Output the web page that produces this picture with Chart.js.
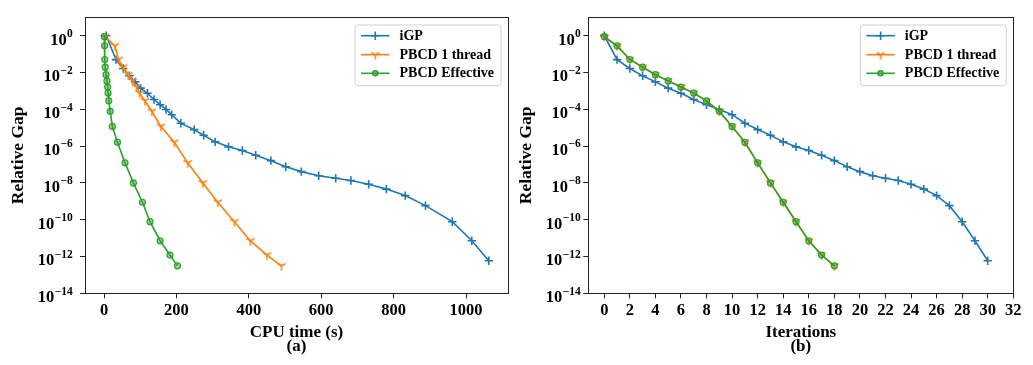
<!DOCTYPE html>
<html><head><meta charset="utf-8">
<script src="https://cdn.jsdelivr.net/npm/chart.js@4.4.0/dist/chart.umd.min.js"></script>
<style>
html,body{margin:0;padding:0;background:#fff;}
#wrap{position:relative;width:1033px;height:365px;overflow:hidden;}
canvas{position:absolute;top:0;}
</style></head><body>
<div id="wrap">
<canvas id="c1" width="517" height="365" style="left:0px"></canvas>
<canvas id="c2" width="516" height="365" style="left:517px"></canvas>
</div>
<script>
// ---------- data ----------
const seriesNames = ['iGP', 'PBCD 1 thread', 'PBCD Effective'];
const igpIter = [0,1,2,3,4,5,6,7,8,9,10,11,12,13,14,15,16,17,18,19,20,21,22,23,24,25,26,27,28,29,30];
const igpTime = [6,33,53,70,86,101,120,138,155,171,187,212,249,275,307,344,382,419,461,502,545,593,640,682,731,780,832,888,962,1016,1063];
const igpGap = [1.0,5.0e-2,1.66e-2,6.6e-3,3.1e-3,1.41e-3,7.4e-4,3.4e-4,1.78e-4,9.8e-5,5.1e-5,1.74e-5,7.9e-6,3.9e-6,1.7e-6,9.1e-7,5.8e-7,3.2e-7,1.62e-7,7.6e-8,4.1e-8,2.45e-8,1.78e-8,1.35e-8,8.5e-9,4.6e-9,2.04e-9,5.8e-10,7.8e-11,7.2e-12,5.9e-13];
const pbcdIter = [0,1,2,3,4,5,6,7,8,9,10,11,12,13,14,15,16,17,18];
const pbcd1Time = [3,30,40,53,67,79,90,98,113,132,157,194,231,273,314,360,404,450,490];
const pbcdEffTime = [0.5,1.5,2,3,5.5,8,10,11,13,17,23,37,58,81,106,127,155,182,203];
const pbcdGap = [0.9,2.8e-1,5.1e-2,1.95e-2,7.6e-3,3.5e-3,1.62e-3,7.6e-4,2.9e-4,7.8e-5,1.17e-5,1.62e-6,1.23e-7,1.0e-8,8.9e-10,7.8e-11,7.2e-12,1.2e-12,3.1e-13];
const yTickExponents = [0,-2,-4,-6,-8,-10,-12,-14];
const xTicksTime = [0,200,400,600,800,1000];
const xTicksIter = [0,2,4,6,8,10,12,14,16,18,20,22,24,26,28,30,32];

// ---------- styling ----------
const C_BLUE = '#1f77b4', C_ORANGE = '#ff7f0e', C_GREEN = '#2ca02c';
const SERIF = "'Liberation Serif','Times New Roman',serif";

function triDown(color) {
  const c = document.createElement('canvas');
  c.width = 12; c.height = 12;
  const g = c.getContext('2d');
  g.strokeStyle = color; g.lineWidth = 1.5; g.lineCap = 'butt';
  const cx = 6, cy = 6, r = 4.8;
  g.beginPath();
  g.moveTo(cx, cy); g.lineTo(cx, cy + r);
  g.moveTo(cx, cy); g.lineTo(cx - r * 0.866, cy - r * 0.5);
  g.moveTo(cx, cy); g.lineTo(cx + r * 0.866, cy - r * 0.5);
  g.stroke();
  return c;
}
const triImg = triDown(C_ORANGE);

function pts(xs, ys) { return xs.map((x, i) => ({x: x, y: ys[i]})); }

function makeDatasets(xIgp, x1, xEff) {
  return [
    {label: seriesNames[0], data: pts(xIgp, igpGap), borderColor: C_BLUE, backgroundColor: C_BLUE,
     borderWidth: 1.6, pointStyle: 'cross', pointRadius: 4.2, pointBorderWidth: 1.6, order: 3, markerKind: 'cross'},
    {label: seriesNames[1], data: pts(x1, pbcdGap), borderColor: C_ORANGE, backgroundColor: C_ORANGE,
     borderWidth: 1.6, pointStyle: triImg, pointRadius: 4.5, order: 2, markerKind: 'tri'},
    {label: seriesNames[2], data: pts(xEff, pbcdGap), borderColor: C_GREEN, backgroundColor: 'rgba(44,160,44,0.45)',
     borderWidth: 1.6, pointStyle: 'circle', pointRadius: 3, pointBorderWidth: 1.2, order: 1, markerKind: 'circle'}
  ];
}

const framePlugin = {
  id: 'frame',
  afterDatasetsDraw(chart) {
    const a = chart.chartArea, ctx = chart.ctx;
    ctx.save();
    ctx.strokeStyle = '#222'; ctx.lineWidth = 1;
    ctx.strokeRect(Math.round(a.left) + 0.5, Math.round(a.top) + 0.5, Math.round(a.right - a.left), Math.round(a.bottom - a.top));
    ctx.restore();
  }
};

// power-of-ten tick labels with a raised exponent (like matplotlib mathtext)
function expTickPlugin(gap) {
  return {
    id: 'expTicks',
    afterDraw(chart) {
      const s = chart.scales.y, ctx = chart.ctx;
      const right = chart.chartArea.left - gap;
      ctx.save();
      ctx.fillStyle = '#000';
      ctx.textAlign = 'right'; ctx.textBaseline = 'alphabetic';
      s.ticks.forEach(t => {
        const y = s.getPixelForValue(t.value);
        const e = Math.round(Math.log10(t.value));
        const expStr = e < 0 ? '\u2212' + (-e) : String(e);
        ctx.font = 'bold 11.5px ' + SERIF;
        const ew = ctx.measureText(expStr).width;
        ctx.fillText(expStr, right, y + 1.2);
        ctx.font = 'bold 16.5px ' + SERIF;
        ctx.fillText('10', right - ew - 0.3, y + 8.8);
      });
      ctx.restore();
    }
  };
}

const legendPlugin = {
  id: 'mplLegend',
  afterDraw(chart) {
    const ctx = chart.ctx, a = chart.chartArea;
    const ds = chart.data.datasets;
    ctx.save();
    ctx.font = 'bold 14px ' + SERIF;
    let tw = 0;
    ds.forEach(d => { tw = Math.max(tw, ctx.measureText(d.label).width); });
    const lineLen = 28.5, padL = 6, gap = 10, padR = 7;
    const w = padL + lineLen + gap + tw + padR, h = 60.7;
    const right = a.right - 7, top = a.top + 7.7, left = right - w;
    ctx.beginPath();
    const r = 3;
    ctx.moveTo(left + r, top); ctx.lineTo(right - r, top); ctx.quadraticCurveTo(right, top, right, top + r);
    ctx.lineTo(right, top + h - r); ctx.quadraticCurveTo(right, top + h, right - r, top + h);
    ctx.lineTo(left + r, top + h); ctx.quadraticCurveTo(left, top + h, left, top + h - r);
    ctx.lineTo(left, top + r); ctx.quadraticCurveTo(left, top, left + r, top);
    ctx.closePath();
    ctx.fillStyle = 'rgba(255,255,255,0.85)'; ctx.fill();
    ctx.strokeStyle = '#d0d0d0'; ctx.lineWidth = 1; ctx.stroke();
    const rows = [10.7, 29.7, 48.3];
    ds.forEach((d, i) => {
      const y = top + rows[i];
      const x1 = left + padL, x2 = x1 + lineLen, xm = (x1 + x2) / 2;
      ctx.strokeStyle = d.borderColor; ctx.lineWidth = 1.6;
      ctx.beginPath(); ctx.moveTo(x1, y); ctx.lineTo(x2, y); ctx.stroke();
      ctx.fillStyle = d.backgroundColor; ctx.strokeStyle = d.borderColor;
      if (d.markerKind === 'tri') {
        ctx.drawImage(triImg, xm - 6, y - 6);
      } else {
        Chart.helpers.drawPoint(ctx, {pointStyle: d.pointStyle, radius: d.markerKind === 'circle' ? 2.5 : 4.2,
          rotation: 0, borderWidth: d.pointBorderWidth || 1.5}, xm, y);
      }
      ctx.fillStyle = '#000'; ctx.textAlign = 'left'; ctx.textBaseline = 'middle';
      ctx.fillText(d.label, x2 + gap, y + 0.5);
    });
    ctx.restore();
  }
};

function makeChart(id, cfg) {
  return new Chart(document.getElementById(id), {
    type: 'line',
    data: {datasets: cfg.datasets},
    plugins: [framePlugin, legendPlugin, expTickPlugin(cfg.labelGap)],
    options: {
      responsive: false, animation: false, devicePixelRatio: 1,
      layout: {padding: {left: 0, top: 17.3, right: cfg.padRight, bottom: 0}},
      plugins: {legend: {display: false}, tooltip: {enabled: false}},
      elements: {line: {tension: 0}},
      scales: {
        x: {
          type: 'linear', min: cfg.xmin, max: cfg.xmax,
          afterFit: s => { s.height = 71.7; },
          afterBuildTicks: s => { s.ticks = cfg.xticks.map(v => ({value: v})); },
          grid: {drawOnChartArea: false, drawTicks: true, tickLength: 5, tickColor: '#222', tickWidth: 1},
          border: {display: true, color: '#222', width: 1},
          ticks: {autoSkip: false, maxRotation: 0, padding: 2.6, color: '#000',
                  font: {family: SERIF, size: 16.5, weight: 'bold'},
                  callback: v => String(v)},
          title: {display: true, text: cfg.xtitle, color: '#000',
                  font: {family: SERIF, size: 17, weight: 'bold', lineHeight: 0.847},
                  padding: {top: 0, bottom: 11.2}}
        },
        y: {
          type: 'logarithmic', min: 1e-14, max: 10,
          afterFit: s => { s.width = cfg.yWidth; },
          afterBuildTicks: s => { s.ticks = yTickExponents.map(e => ({value: Math.pow(10, e)})); },
          grid: {drawOnChartArea: false, drawTicks: true, tickLength: 5, tickColor: '#222', tickWidth: 1},
          border: {display: true, color: '#222', width: 1},
          ticks: {autoSkip: false, padding: 6, color: '#000',
                  font: {family: SERIF, size: 16.5, weight: 'bold'},
                  callback: () => ''},
          title: {display: true, text: 'Relative Gap', color: '#000',
                  font: {family: SERIF, size: 17.5, weight: 'bold', lineHeight: 1},
                  padding: {top: cfg.yTitlePad, bottom: 0}}
        }
      }
    }
  });
}

makeChart('c1', {
  datasets: makeDatasets(igpTime, pbcd1Time, pbcdEffTime),
  padRight: 9, xmin: -52.6, xmax: 1116, xticks: xTicksTime,
  xtitle: ['CPU time (s)', '(a)'], yWidth: 85, yTitlePad: 9.8, labelGap: 12.3
});
makeChart('c2', {
  datasets: makeDatasets(igpIter, pbcdIter, pbcdIter),
  padRight: 19.7, xmin: -1.25, xmax: 32, xticks: xTicksIter,
  xtitle: ['Iterations', '(b)'], yWidth: 71.3, yTitlePad: 1.2, labelGap: 7.6
});
</script>
</body></html>
